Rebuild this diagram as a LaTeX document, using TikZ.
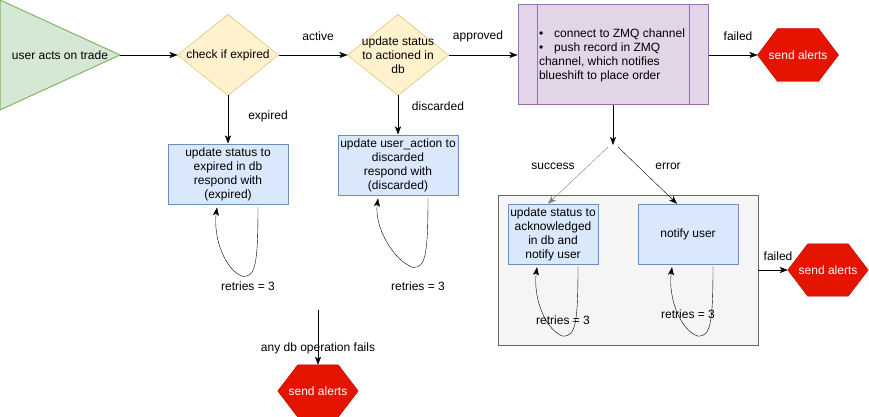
\documentclass[tikz,border=0pt]{standalone}
\usepackage{fontspec}
\setmainfont{Liberation Sans}
\usetikzlibrary{arrows.meta}
\usetikzlibrary{calc}
\definecolor{greenfill}{HTML}{D5E8D4}
\definecolor{greenline}{HTML}{82B366}
\definecolor{yellowfill}{HTML}{FFF2CC}
\definecolor{yellowline}{HTML}{D6B656}
\definecolor{bluefill}{HTML}{DAE8FC}
\definecolor{blueline}{HTML}{6C8EBF}
\definecolor{purplefill}{HTML}{E1D5E7}
\definecolor{purpleline}{HTML}{9673A6}
\definecolor{redfill}{HTML}{E51400}
\definecolor{redline}{HTML}{B20000}
\definecolor{greyfill}{HTML}{F5F5F5}
\definecolor{greyline}{HTML}{666666}
\pgfdeclarelayer{bg}
\pgfsetlayers{bg,main}

\begin{document}
\begin{tikzpicture}[x=1pt,y=-1pt,line width=1pt,>={Stealth[length=8pt,width=6pt,inset=2pt]},
  every node/.style={font=\fontsize{12}{14}\selectfont},
  decision/.style={align=center,minimum width=100,minimum height=80,inner sep=0},
  action/.style={draw=blueline,fill=bluefill,rectangle,align=center,inner sep=0,minimum height=60},
  alert/.style={text=white,minimum width=80,minimum height=52,inner sep=0}]
  \useasboundingbox (0,0) rectangle (869,417);
  \draw[draw=greenline,fill=greenfill] (0,0) -- (120,55) -- (0,110) -- cycle;
  \node (trade) at (60,55) {user acts on trade};
  \coordinate (tip) at (120,55);
  \node[decision] (expiry) at (228,55) {check if expired};
  \node[decision] (actioned) at (398,55) {update status\\to actioned in\\db};
  \node[draw=purpleline,fill=purplefill,minimum width=190,minimum height=100,inner sep=0] (zmq) at (613,55) {};
  \draw[purpleline] ([xshift=20]zmq.north west) -- ([xshift=20]zmq.south west);
  \draw[purpleline] ([xshift=-19]zmq.north east) -- ([xshift=-19]zmq.south east);
  \node[anchor=west,align=left,inner sep=0] (zmqtxt) at ([xshift=21]zmq.west) {\textbullet\hspace{11pt}connect to ZMQ channel\\\textbullet\hspace{11pt}push record in ZMQ\\channel, which notifies\\blueshift to place order};
  \node[alert] (alertzmq) at (798,55) {send alerts};
  \node[action,minimum width=120] (expd) at (228,174) {update status to\\expired in db\\respond with\\(expired)};
  \node[action,minimum width=120] (disc) at (398,165) {update user\_action to\\discarded\\respond with\\(discarded)};
  \begin{pgfonlayer}{bg}
    \node[draw=greyline,fill=greyfill,minimum width=260,minimum height=150,inner sep=0] (group) at (628,270) {};
    \foreach \d in {expiry,actioned}
      \draw[draw=yellowline,fill=yellowfill] (\d.west) -- (\d.north) -- (\d.east) -- (\d.south) -- cycle;
  \end{pgfonlayer}
  \node[action,minimum width=90] (ack) at (553,234) {update status to\\acknowledged\\in db and\\notify user};
  \node[action,minimum width=100] (notif) at (688,234) {notify user};
  \node[alert] (alertgrp) at (828,270) {send alerts};
  \node[alert] (alertdb) at (318,391) {send alerts};
  \begin{pgfonlayer}{bg}
    \foreach \h in {alertzmq,alertgrp,alertdb}
      \draw[draw=redline,fill=redfill] (\h.west) -- ([xshift=20]\h.north west) -- ([xshift=-20]\h.north east) -- (\h.east) -- ([xshift=-20]\h.south east) -- ([xshift=20]\h.south west) -- cycle;
  \end{pgfonlayer}
  \coordinate (split) at (613,145);
  \coordinate (splitL) at (608,147);
  \coordinate (splitR) at (618,147);
  \coordinate (dbfail) at (318,310);
  \draw[->] (tip) -- (expiry.west);
  \draw[->] (expiry.east) -- (actioned.west);
  \draw[->] (actioned.east) -- (zmq.west);
  \draw[->] (zmq.east) -- (alertzmq.west);
  \draw[->] (expiry.south) -- (expd.north);
  \draw[->] (actioned.south) -- (disc.north);
  \draw[->] (zmq.south) -- (split);
  \draw[->,gray] (splitL) -- ([xshift=-5]ack.north);
  \draw[->] (splitR) -- ([xshift=-11]notif.north);
  \draw[->] (dbfail) -- (alertdb.north);
  \draw[->] (group.east) -- (alertgrp.west);
  \foreach \b/\s/\e in {expd/30/-11, disc/30/-20, ack/25/-16, notif/25/-16}
    \draw[->] ($(\b.south)+(\s,2)$) .. controls +(0,60) and +(12,0) .. ($(\b.south)+(\s-15,72)$) .. controls +(-18,-6) and +(-4,30) .. ($(\b.south)+(\e,3)$);
  \node (activelbl) at (318,36) {active};
  \node (approvedlbl) at (478,36) {approved};
  \node (failedlbl) at (738,36) {failed};
  \node (expiredlbl) at (268,116) {expired};
  \node (discardedlbl) at (438,106) {discarded};
  \node (successlbl) at (553,166) {success};
  \node (errorlbl) at (668,166) {error};
  \node (failedgrplbl) at (778,256) {failed};
  \node (retriesA) at (248,286) {retries = 3};
  \node (retriesB) at (418,286) {retries = 3};
  \node (retriesC) at (563,320) {retries = 3};
  \node (retriesD) at (688,314) {retries = 3};
  \node (dbfaillbl) at (318,348) {any db operation fails};
\end{tikzpicture}
\end{document}
